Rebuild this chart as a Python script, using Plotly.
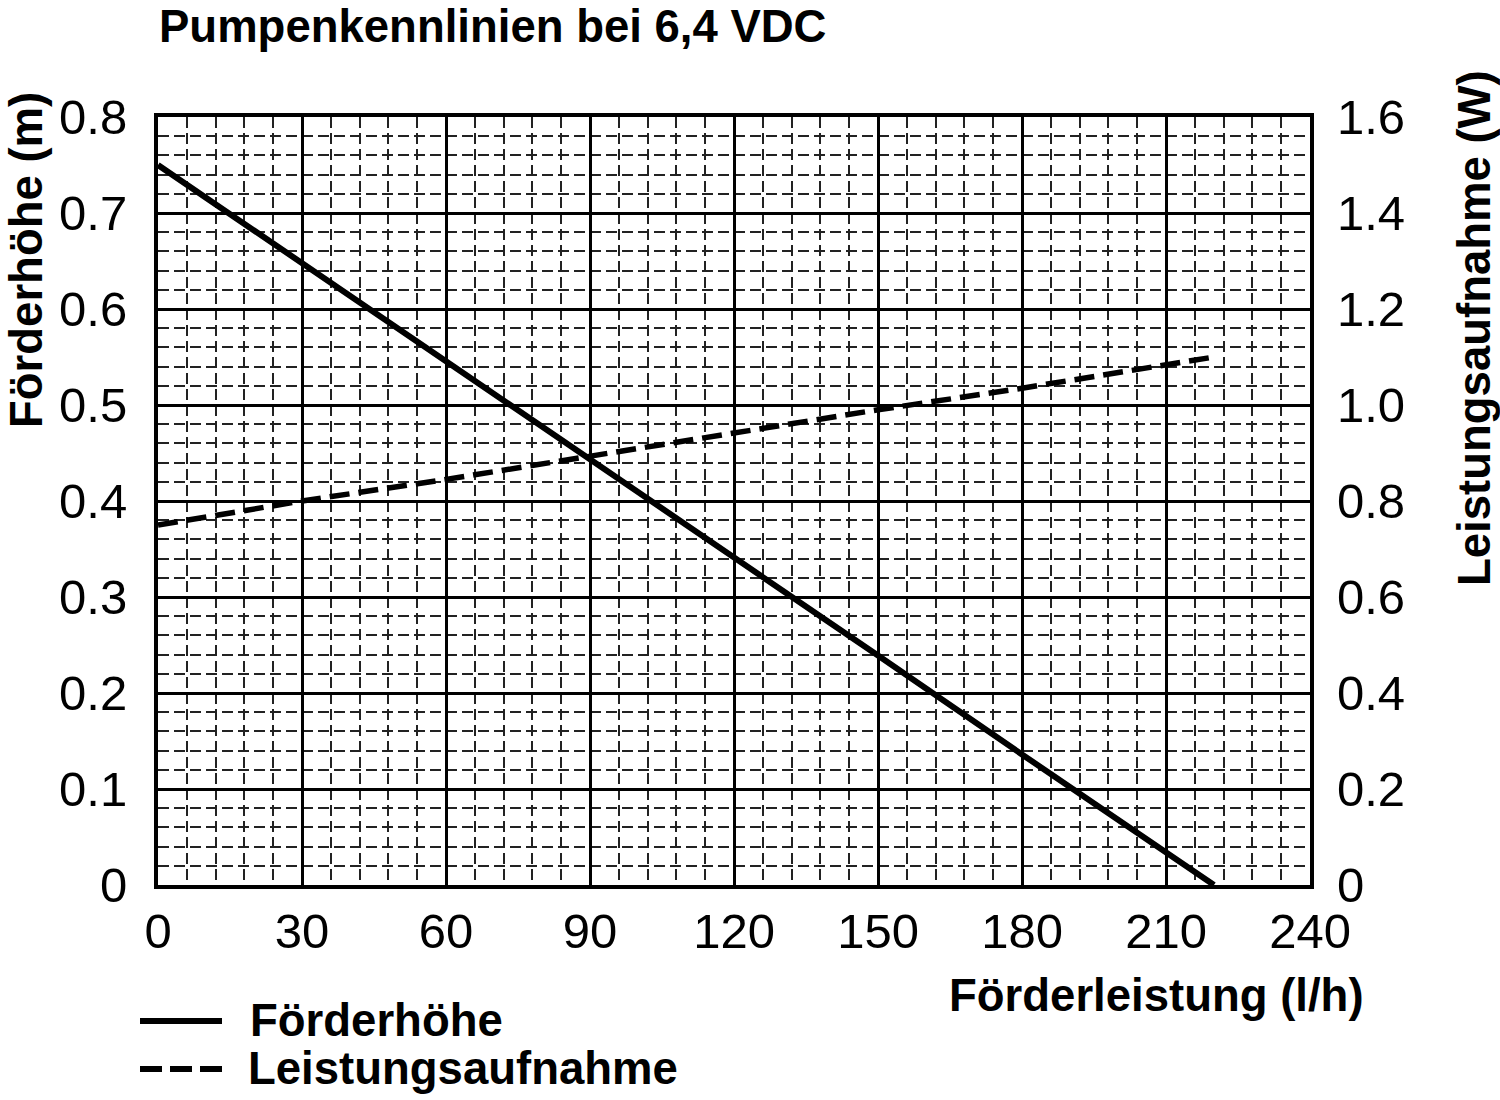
import plotly.graph_objects as go

flow = [0, 30, 60, 90, 120, 150, 180, 210, 220]
head = [0.75, 0.648, 0.545, 0.443, 0.341, 0.239, 0.136, 0.034, 0.0]
power = [0.75, 0.80, 0.845, 0.893, 0.94, 0.99, 1.035, 1.085, 1.10]

x_ticks = [0, 30, 60, 90, 120, 150, 180, 210, 240]
y_ticks = [0, 0.1, 0.2, 0.3, 0.4, 0.5, 0.6, 0.7, 0.8]
y_labels = ["0", "0.1", "0.2", "0.3", "0.4", "0.5", "0.6", "0.7", "0.8"]
y2_ticks = [0, 0.2, 0.4, 0.6, 0.8, 1.0, 1.2, 1.4, 1.6]
y2_labels = ["0", "0.2", "0.4", "0.6", "0.8", "1.0", "1.2", "1.4", "1.6"]

title = "Pumpenkennlinien bei 6,4 VDC"
x_title = "Förderleistung (l/h)"
y_title = "Förderhöhe (m)"
y2_title = "Leistungsaufnahme (W)"
names = ["Förderhöhe", "Leistungsaufnahme"]

BOLD = "Liberation Sans Narrow, Arial Narrow, Liberation Sans, Arial"
REG = "Liberation Sans, Arial"
BS = 45.5
TS = 49

fig = go.Figure()
fig.add_trace(go.Scatter(x=flow, y=head, mode="lines", name=names[0],
                         line=dict(color="black", width=6), yaxis="y"))
fig.add_trace(go.Scatter(x=flow, y=power, mode="lines", name=names[1],
                         line=dict(color="black", width=5.5, dash="20px,9px"), yaxis="y2"))

grid_minor = dict(showgrid=True, gridcolor="#222", gridwidth=1.5, griddash="11px,5px", ticks="")

fig.update_layout(
    width=1500, height=1100,
    margin=dict(l=158, r=190, t=117, b=215),
    paper_bgcolor="white", plot_bgcolor="white",
    showlegend=False,
    xaxis=dict(range=[0, 240], tickvals=x_ticks, ticktext=[str(v) for v in x_ticks],
               showgrid=True, gridcolor="black", gridwidth=2.5,
               minor=dict(dtick=6, tick0=0, **grid_minor),
               showline=True, linecolor="black", linewidth=4, mirror=True,
               ticks="", ticklabelstandoff=0, zeroline=False,
               tickfont=dict(family=REG, size=TS, color="black")),
    yaxis=dict(range=[0, 0.8], tickvals=y_ticks, ticktext=y_labels,
               showgrid=True, gridcolor="black", gridwidth=2.5,
               minor=dict(dtick=0.02, tick0=0, **grid_minor),
               showline=True, linecolor="black", linewidth=4, mirror=True,
               ticks="", ticklabelstandoff=17, zeroline=False,
               tickfont=dict(family=REG, size=TS, color="black")),
    yaxis2=dict(range=[0, 1.6], tickvals=y2_ticks, ticktext=y2_labels,
                overlaying="y", side="right", showgrid=False, zeroline=False,
                ticks="", ticklabelstandoff=26,
                tickfont=dict(family=REG, size=TS, color="black")),
)


def px(xp):
    return (xp - 158) / (1500 - 158 - 190)


def py(yp):
    return (1100 - 215 - yp) / (1100 - 117 - 215)


annotations = [
    dict(text="<b>" + title + "</b>", x=px(157), y=py(26), xanchor="left", yanchor="middle",
         font=dict(family=BOLD, size=BS, color="black")),
    dict(text="<b>" + x_title + "</b>", x=px(1366), y=py(995), xanchor="right", yanchor="middle",
         font=dict(family=BOLD, size=BS, color="black")),
    dict(text="<b>" + y_title + "</b>", x=px(26), y=py(260), xanchor="center", yanchor="middle",
         textangle=-90, font=dict(family=BOLD, size=BS, color="black")),
    dict(text="<b>" + y2_title + "</b>", x=px(1474), y=py(328), xanchor="center", yanchor="middle",
         textangle=-90, font=dict(family=BOLD, size=BS, color="black")),
    dict(text="<b>" + names[0] + "</b>", x=px(248), y=py(1020), xanchor="left", yanchor="middle",
         font=dict(family=BOLD, size=BS, color="black")),
    dict(text="<b>" + names[1] + "</b>", x=px(246), y=py(1068), xanchor="left", yanchor="middle",
         font=dict(family=BOLD, size=BS, color="black")),
]
for a in annotations:
    a.update(xref="paper", yref="paper", showarrow=False)
fig.update_layout(annotations=annotations)

fig.add_shape(type="line", xref="paper", yref="paper", x0=px(140), x1=px(222),
              y0=py(1021), y1=py(1021), line=dict(color="black", width=6))
fig.add_shape(type="line", xref="paper", yref="paper", x0=px(140), x1=px(222),
              y0=py(1069), y1=py(1069), line=dict(color="black", width=6, dash="22px,8px"))

fig.write_html("out.html")
